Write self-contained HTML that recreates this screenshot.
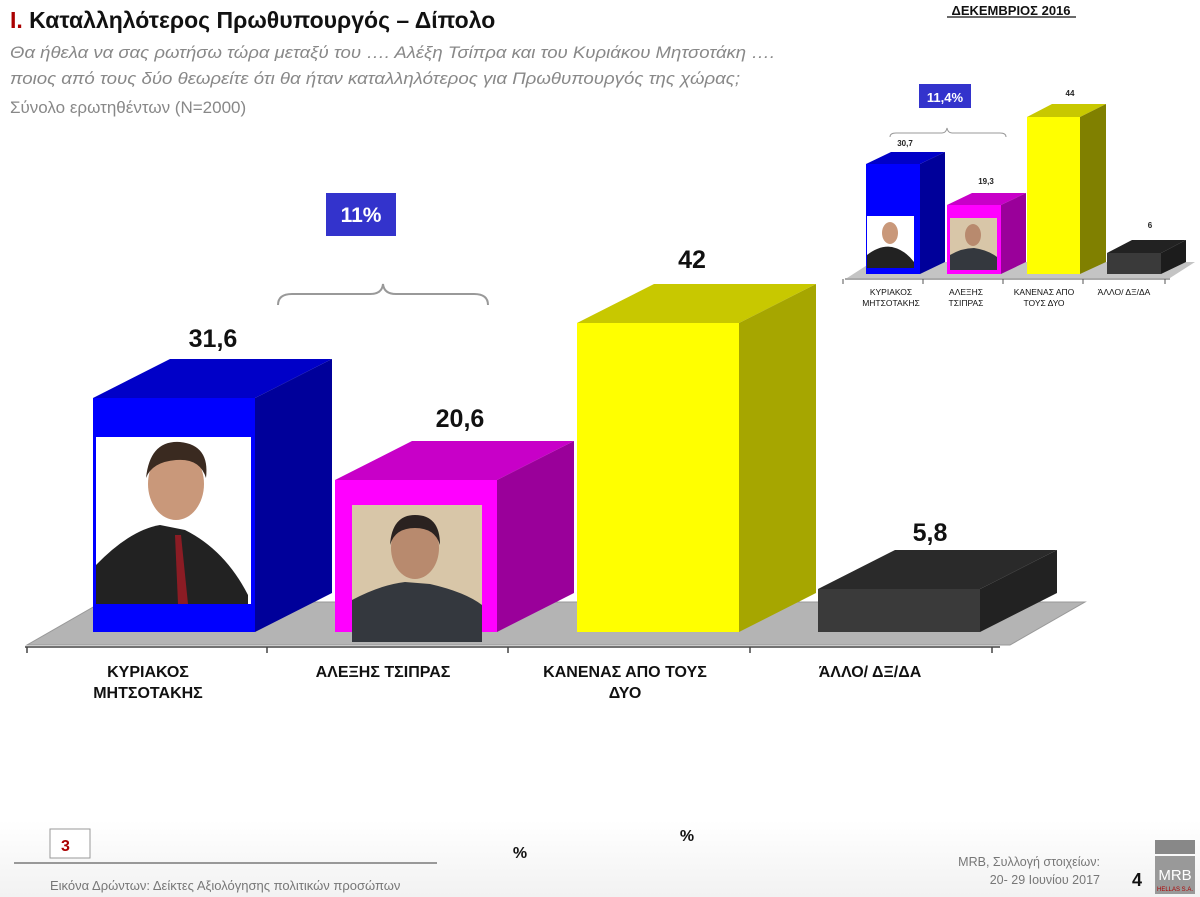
<!DOCTYPE html>
<html><head><meta charset="utf-8"><style>
body{margin:0;background:#fff;width:1200px;height:897px;overflow:hidden}
svg{display:block}
text{font-family:"Liberation Sans","DejaVu Sans",sans-serif}
</style></head><body>
<svg width="1200" height="897" viewBox="0 0 1200 897" xmlns="http://www.w3.org/2000/svg">
<defs><linearGradient id="ft" x1="0" y1="0" x2="0" y2="1"><stop offset="0" stop-color="#fff"/><stop offset="1" stop-color="#f2f2f2"/></linearGradient></defs>
<rect x="0" y="820" width="1200" height="77" fill="url(#ft)"/>
<!-- header -->
<text x="10" y="28" font-size="23" font-weight="bold" fill="#111"><tspan fill="#a00">I.</tspan> Καταλληλότερος Πρωθυπουργός – Δίπολο</text>
<text x="10" y="58" font-size="17" font-style="italic" fill="#888" textLength="765" lengthAdjust="spacingAndGlyphs">Θα ήθελα να σας ρωτήσω τώρα μεταξύ του …. Αλέξη Τσίπρα και του Κυριάκου Μητσοτάκη ….</text>
<text x="10" y="84" font-size="17" font-style="italic" fill="#888" textLength="730" lengthAdjust="spacingAndGlyphs">ποιος από τους δύο θεωρείτε ότι θα ήταν καταλληλότερος για Πρωθυπουργός της χώρας;</text>
<text x="10" y="113" font-size="17" fill="#888">Σύνολο ερωτηθέντων (N=2000)</text>
<text x="1011" y="15" font-size="13" font-weight="bold" fill="#111" text-anchor="middle">ΔΕΚΕΜΒΡΙΟΣ 2016</text>
<line x1="947" y1="17" x2="1076" y2="17" stroke="#111" stroke-width="1.2"/>

<!-- main floor -->
<polygon points="27,645 1010,645 1085,602 102,602" fill="#b4b4b4" stroke="#999" stroke-width="1"/>
<line x1="25" y1="647" x2="1000" y2="647" stroke="#444" stroke-width="1.5"/>
<g stroke="#444" stroke-width="1.5"><line x1="27" y1="647" x2="27" y2="653"/><line x1="267" y1="647" x2="267" y2="653"/><line x1="508" y1="647" x2="508" y2="653"/><line x1="750" y1="647" x2="750" y2="653"/><line x1="992" y1="647" x2="992" y2="653"/></g>

<!-- blue -->
<polygon points="93,398 170,359 332,359 255,398" fill="#0000c8"/>
<polygon points="255,398 332,359 332,593 255,632" fill="#00009a"/>
<rect x="93" y="398" width="162" height="234" fill="#0000ff"/>
<rect x="96" y="437" width="155" height="167" fill="#fff"/>
<path d="M96,604 L96,565 Q130,530 160,525 L185,530 Q225,550 248,595 L248,604 Z" fill="#222"/>
<ellipse cx="176" cy="484" rx="28" ry="36" fill="#c9987a"/>
<path d="M146,478 Q150,440 180,442 Q210,445 206,478 Q200,458 176,460 Q152,462 146,478Z" fill="#3a2a20"/>
<polygon points="175,535 181,535 188,604 178,604" fill="#8b1c24"/>
<!-- pink -->
<polygon points="335,480 412,441 574,441 497,480" fill="#c800c8"/>
<polygon points="497,480 574,441 574,593 497,632" fill="#9a009a"/>
<rect x="335" y="480" width="162" height="152" fill="#ff00ff"/>
<rect x="352" y="505" width="130" height="137" fill="#d8c6a8"/>
<path d="M352,642 L352,600 Q380,585 405,582 L430,584 Q465,592 482,605 L482,642Z" fill="#34383e"/>
<ellipse cx="415" cy="548" rx="24" ry="31" fill="#b88a6e"/>
<path d="M390,545 Q392,515 415,515 Q440,515 440,545 Q435,528 415,528 Q395,528 390,545Z" fill="#2a2220"/>
<!-- yellow -->
<polygon points="577,323 654,284 816,284 739,323" fill="#c8c800"/>
<polygon points="739,323 816,284 816,593 739,632" fill="#a6a600"/>
<rect x="577" y="323" width="162" height="309" fill="#ffff00"/>
<!-- dark -->
<polygon points="818,589 895,550 1057,550 980,589" fill="#2a2a2a"/>
<polygon points="980,589 1057,550 1057,593 980,632" fill="#222"/>
<rect x="818" y="589" width="162" height="43" fill="#3a3a3a"/>

<g font-size="25" font-weight="bold" fill="#111" text-anchor="middle">
<text x="213" y="347">31,6</text><text x="460" y="427">20,6</text><text x="692" y="268">42</text><text x="930" y="541">5,8</text></g>
<g font-size="16" font-weight="bold" fill="#111" text-anchor="middle">
<text x="148" y="677">ΚΥΡΙΑΚΟΣ</text><text x="148" y="698">ΜΗΤΣΟΤΑΚΗΣ</text>
<text x="383" y="677">ΑΛΕΞΗΣ ΤΣΙΠΡΑΣ</text>
<text x="625" y="677">ΚΑΝΕΝΑΣ ΑΠΟ ΤΟΥΣ</text><text x="625" y="698">ΔΥΟ</text>
<text x="870" y="677">ΆΛΛΟ/ ΔΞ/ΔΑ</text></g>
<rect x="326" y="193" width="70" height="43" fill="#3333cc"/>
<text x="361" y="222" font-size="21" font-weight="bold" fill="#fff" text-anchor="middle">11%</text>
<path d="M278,305 Q278,294 292,294 L370,294 Q382,294 383,284 Q384,294 396,294 L474,294 Q488,294 488,305" fill="none" stroke="#999" stroke-width="2"/>

<!-- inset -->
<polygon points="847,278 1170,278 1195,262 872,262" fill="#c4c4c4"/>
<line x1="845" y1="279" x2="1170" y2="279" stroke="#555"/>
<g stroke="#555"><line x1="843" y1="279" x2="843" y2="284"/><line x1="923" y1="279" x2="923" y2="284"/><line x1="1003" y1="279" x2="1003" y2="284"/><line x1="1083" y1="279" x2="1083" y2="284"/><line x1="1165" y1="279" x2="1165" y2="284"/></g>
<polygon points="866,164 891,152 945,152 920,164" fill="#0000c8"/><polygon points="920,164 945,152 945,262 920,274" fill="#00009a"/><rect x="866" y="164" width="54" height="110" fill="#00f"/>
<rect x="867" y="216" width="47" height="52" fill="#fff"/><path d="M867,268 L867,255 Q880,245 892,247 Q905,250 914,262 L914,268Z" fill="#222"/><ellipse cx="890" cy="233" rx="8" ry="11" fill="#c9987a"/>
<polygon points="947,205 972,193 1026,193 1001,205" fill="#c800c8"/><polygon points="1001,205 1026,193 1026,262 1001,274" fill="#9a009a"/><rect x="947" y="205" width="54" height="69" fill="#f0f"/>
<rect x="950" y="218" width="47" height="52" fill="#d8c6a8"/><path d="M950,270 L950,255 Q962,248 974,248 Q988,250 997,257 L997,270Z" fill="#34383e"/><ellipse cx="973" cy="235" rx="8" ry="11" fill="#b88a6e"/>
<polygon points="1027,117 1052,104 1106,104 1080,117" fill="#c8c800"/><polygon points="1080,117 1106,104 1106,262 1080,274" fill="#808000"/><rect x="1027" y="117" width="53" height="157" fill="#ff0"/>
<polygon points="1107,253 1132,240 1186,240 1161,253" fill="#222"/><polygon points="1161,253 1186,240 1186,262 1161,274" fill="#1c1c1c"/><rect x="1107" y="253" width="54" height="21" fill="#3a3a3a"/>
<g font-size="8" font-weight="bold" fill="#222" text-anchor="middle"><text x="905" y="146">30,7</text><text x="986" y="184">19,3</text><text x="1070" y="96">44</text><text x="1150" y="228">6</text></g>
<g font-size="8.5" fill="#111" text-anchor="middle"><text x="891" y="295">ΚΥΡΙΑΚΟΣ</text><text x="891" y="306">ΜΗΤΣΟΤΑΚΗΣ</text><text x="966" y="295">ΑΛΕΞΗΣ</text><text x="966" y="306">ΤΣΙΠΡΑΣ</text><text x="1044" y="295">ΚΑΝΕΝΑΣ ΑΠΟ</text><text x="1044" y="306">ΤΟΥΣ ΔΥΟ</text><text x="1124" y="295">ΆΛΛΟ/ ΔΞ/ΔΑ</text></g>
<rect x="919" y="84" width="52" height="24" fill="#3333cc"/>
<text x="945" y="102" font-size="13" font-weight="bold" fill="#fff" text-anchor="middle">11,4%</text>
<path d="M890,137 Q890,133 896,133 L942,133 Q946,133 947,128 Q948,133 952,133 L1000,133 Q1006,133 1006,137" fill="none" stroke="#999" stroke-width="1"/>

<!-- footer -->
<rect x="50" y="829" width="40" height="29" fill="#fff" stroke="#999"/>
<text x="61" y="851" font-size="16" font-weight="bold" fill="#a00">3</text>
<line x1="14" y1="863" x2="437" y2="863" stroke="#999" stroke-width="2"/>
<text x="50" y="890" font-size="13" fill="#777">Εικόνα Δρώντων: Δείκτες Αξιολόγησης πολιτικών προσώπων</text>
<text x="520" y="858" font-size="16" font-weight="bold" fill="#111" text-anchor="middle">%</text>
<text x="687" y="841" font-size="16" font-weight="bold" fill="#111" text-anchor="middle">%</text>
<text x="1100" y="866" font-size="12.5" fill="#777" text-anchor="end">MRB, Συλλογή στοιχείων:</text>
<text x="1100" y="884" font-size="12.5" fill="#777" text-anchor="end">20- 29 Ιουνίου 2017</text>
<text x="1137" y="886" font-size="18" font-weight="bold" fill="#111" text-anchor="middle">4</text>
<rect x="1155" y="840" width="40" height="14" fill="#888"/>
<rect x="1155" y="856" width="40" height="38" fill="#999"/>
<text x="1175" y="880" font-size="15" font-family="Liberation Serif" fill="#fff" text-anchor="middle">MRB</text>
<text x="1175" y="891" font-size="6" fill="#a00" text-anchor="middle">HELLAS S.A.</text>
</svg>
</body></html>
